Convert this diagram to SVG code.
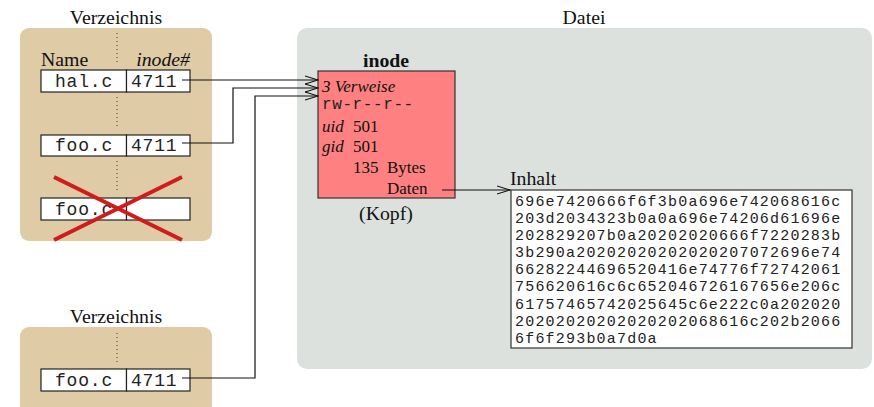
<svg xmlns="http://www.w3.org/2000/svg" width="874" height="407" viewBox="0 0 874 407">
<defs>
<style>
.s{font-family:"Liberation Serif",serif;font-size:19.8px;fill:#111}
.si{font-family:"Liberation Serif",serif;font-size:17px;fill:#111}
.m{font-family:"Liberation Mono",monospace;font-size:18px;letter-spacing:0.8px;fill:#222}
.mi{font-family:"Liberation Mono",monospace;font-size:16px;letter-spacing:0.6px;fill:#222}
.mh{font-family:"Liberation Mono",monospace;font-size:15px;letter-spacing:1.2px;fill:#222}
.cell{fill:#fff;stroke:#222;stroke-width:1.2}
.dot{stroke:#555;stroke-width:1.2;stroke-dasharray:1 3;fill:none}
.con{stroke:#111;stroke-width:1.2;fill:none}
.cross{stroke:#d01c1c;stroke-width:4;fill:none}
</style>
<marker id="arr" viewBox="0 0 14 10" refX="13" refY="5" markerWidth="14" markerHeight="10" markerUnits="userSpaceOnUse" orient="auto">
<path d="M0,1 L13,5 L0,9" fill="none" stroke="#111" stroke-width="1.1"/>
</marker>
</defs>
<rect width="874" height="407" fill="#fff"/>

<g id="datei">
<rect x="297" y="28" width="575" height="341" rx="10" fill="#dde1de"/>
<text class="s" x="584" y="24" text-anchor="middle">Datei</text>
</g>

<g id="verzeichnis1">
<rect x="20" y="28" width="192" height="213" rx="9" fill="#dfcba5"/>
<text class="s" x="116" y="24" text-anchor="middle">Verzeichnis</text>
<line class="dot" x1="117" y1="33" x2="117" y2="65"/>
<line class="dot" x1="117" y1="97" x2="117" y2="129"/>
<line class="dot" x1="117" y1="161" x2="117" y2="193"/>
<text class="s" x="41" y="66">Name</text>
<text class="s" x="190" y="66" text-anchor="end" font-style="italic">inode#</text>
<g id="row-hal">
<rect class="cell" x="41" y="70" width="85.5" height="22"/>
<rect class="cell" x="126.5" y="70" width="63.5" height="22"/>
<text class="m" x="84" y="87" text-anchor="middle">hal.c</text>
<text class="m" x="131" y="87">4711</text>
</g>
<g id="row-foo1">
<rect class="cell" x="41" y="135" width="85.5" height="21"/>
<rect class="cell" x="126.5" y="135" width="63.5" height="21"/>
<text class="m" x="84" y="151" text-anchor="middle">foo.c</text>
<text class="m" x="131" y="151">4711</text>
</g>
<g id="row-foo2">
<rect class="cell" x="41" y="198" width="85.5" height="22"/>
<rect class="cell" x="126.5" y="198" width="63.5" height="22"/>
<text class="m" x="84" y="215" text-anchor="middle">foo.c</text>
</g>
<line class="cross" x1="54" y1="177" x2="182" y2="240"/>
<line class="cross" x1="182" y1="177" x2="54" y2="240"/>
</g>

<g id="verzeichnis2">
<rect x="20" y="327" width="192" height="100" rx="9" fill="#dfcba5"/>
<text class="s" x="116" y="323" text-anchor="middle">Verzeichnis</text>
<line class="dot" x1="117" y1="333" x2="117" y2="364"/>
<rect class="cell" x="41" y="369" width="85.5" height="22"/>
<rect class="cell" x="126.5" y="369" width="63.5" height="22"/>
<text class="m" x="84" y="386" text-anchor="middle">foo.c</text>
<text class="m" x="131" y="386">4711</text>
</g>

<g id="inode">
<text class="s" x="386" y="67" text-anchor="middle" font-weight="bold">inode</text>
<rect x="318" y="71" width="137" height="127" fill="#ff8080" stroke="#333" stroke-width="1.2"/>
<text class="si" x="322" y="92" font-style="italic">3 Verweise</text>
<text class="mi" x="322" y="109">rw-r--r--</text>
<text class="si" x="322" y="132" font-style="italic">uid</text>
<text class="si" x="353" y="132">501</text>
<text class="si" x="322" y="152" font-style="italic">gid</text>
<text class="si" x="353" y="152">501</text>
<text class="si" x="353" y="173">135</text>
<text class="si" x="387" y="173">Bytes</text>
<text class="si" x="387" y="194">Daten</text>
<text class="s" x="386" y="220" text-anchor="middle">(Kopf)</text>
</g>

<g id="inhalt">
<text class="s" x="510" y="185">Inhalt</text>
<rect x="511" y="190" width="341" height="158" fill="#fff" stroke="#333" stroke-width="1.2"/>
<g class="mh">
<text x="515" y="206">696e7420666f6f3b0a696e742068616c</text>
<text x="515" y="223">203d2034323b0a0a696e74206d61696e</text>
<text x="515" y="240">202829207b0a20202020666f7220283b</text>
<text x="515" y="257">3b290a20202020202020207072696e74</text>
<text x="515" y="274">66282244696520416e74776f72742061</text>
<text x="515" y="291">756620616c6c652046726167656e206c</text>
<text x="515" y="309">61757465742025645c6e222c0a202020</text>
<text x="515" y="326">20202020202020202068616c202b2066</text>
<text x="515" y="343">6f6f293b0a7d0a</text>
</g>
</g>

<g id="connectors">
<polyline class="con" points="182,80 318,80" marker-end="url(#arr)"/>
<polyline class="con" points="182,143 233,143 233,88 318,88" marker-end="url(#arr)"/>
<polyline class="con" points="182,378 255,378 255,96 318,96" marker-end="url(#arr)"/>
<polyline class="con" points="442,190 510,190" marker-end="url(#arr)"/>
</g>
</svg>
